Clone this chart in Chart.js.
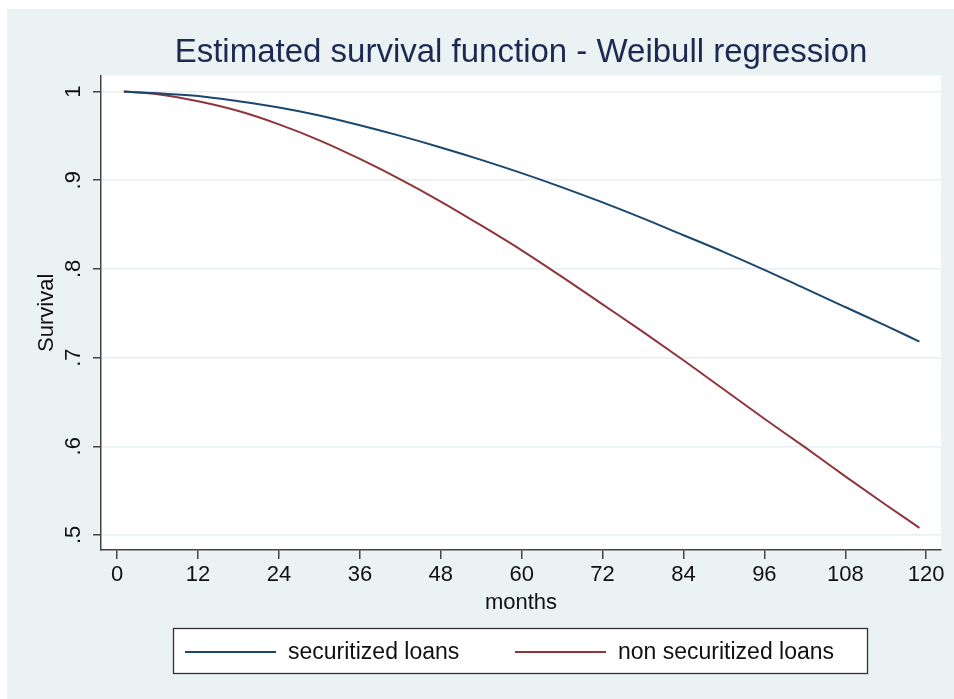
<!DOCTYPE html>
<html>
<head>
<meta charset="utf-8">
<title>Estimated survival function - Weibull regression</title>
<script src="https://cdn.jsdelivr.net/npm/chart.js@4.4.0/dist/chart.umd.min.js"></script>
<style>
  html, body { margin: 0; padding: 0; background: #fff; }
  #wrap { position: relative; width: 954px; height: 699px; }
</style>
</head>
<body>
<div id="wrap"><canvas id="survival-chart"></canvas></div>
<script>
// survival estimates, every 6 months
const months = [1, 6, 12, 18, 24, 30, 36, 42, 48, 54, 60, 66, 72, 78, 84, 90, 96, 102, 108, 114, 119];
const securitized = [1.000, 0.998, 0.995, 0.989, 0.982, 0.973, 0.962, 0.950, 0.937, 0.923, 0.908,
                     0.892, 0.875, 0.857, 0.838, 0.819, 0.799, 0.778, 0.757, 0.736, 0.718];
const nonSecuritized = [1.000, 0.997, 0.989, 0.978, 0.963, 0.945, 0.924, 0.901, 0.876, 0.849, 0.821,
                        0.791, 0.760, 0.729, 0.697, 0.664, 0.631, 0.599, 0.566, 0.534, 0.508];

const xTicks = [0, 12, 24, 36, 48, 60, 72, 84, 96, 108, 120];
const yTicks = [0.5, 0.6, 0.7, 0.8, 0.9, 1];
const yTickLabels = ['.5', '.6', '.7', '.8', '.9', '1'];

const FONT = '"Liberation Sans", Arial, Helvetica, sans-serif';
const axisColor = '#444';
const bgColor = '#eaf2f3';

const toPoints = (vals) => months.map((m, i) => ({ x: m, y: vals[i] }));

// page background + white plot region
const backdrop = {
    id: 'backdrop',
    beforeDraw(chart) {
        const { ctx, chartArea: a, width, height } = chart;
        ctx.save();
        ctx.fillStyle = bgColor;
        ctx.fillRect(7, 9, width - 7, height - 9);
        ctx.fillStyle = '#fff';
        ctx.fillRect(a.left, a.top, a.right - a.left, a.bottom - a.top);
        ctx.restore();
    }
};

// Stata style boxed legend under the axis
const boxLegend = {
    id: 'boxLegend',
    afterDraw(chart) {
        const ctx = chart.ctx;
        const starts = [185, 515];
        const y = 652;
        ctx.save();
        ctx.fillStyle = '#fff';
        ctx.fillRect(173, 628, 695, 46);
        ctx.strokeStyle = '#333';
        ctx.lineWidth = 1.3;
        ctx.strokeRect(173.5, 628.5, 694, 45);
        ctx.font = '23px ' + FONT;
        ctx.textBaseline = 'middle';
        chart.data.datasets.forEach((ds, i) => {
            const x = starts[i];
            ctx.strokeStyle = ds.borderColor;
            ctx.lineWidth = 2;
            ctx.beginPath();
            ctx.moveTo(x, y);
            ctx.lineTo(x + 91, y);
            ctx.stroke();
            ctx.fillStyle = '#111';
            ctx.fillText(ds.label, x + 103, y + 1);
        });
        ctx.restore();
    }
};

new Chart(document.getElementById('survival-chart'), {
    type: 'line',
    data: {
        datasets: [
            {
                label: 'securitized loans',
                data: toPoints(securitized),
                borderColor: '#1a476f',
            },
            {
                label: 'non securitized loans',
                data: toPoints(nonSecuritized),
                borderColor: '#90353b',
            }
        ]
    },
    options: {
        responsive: true,
        maintainAspectRatio: false,
        animation: false,
        events: [],
        layout: { padding: { top: 0, right: 13, bottom: 0, left: 0 } },
        elements: {
            line: { borderWidth: 2, fill: false, tension: 0.4, cubicInterpolationMode: 'monotone' },
            point: { radius: 0 }
        },
        plugins: {
            legend: { display: false },
            tooltip: { enabled: false },
            title: {
                display: true,
                fullSize: false,
                text: 'Estimated survival function - Weibull regression',
                color: '#1c2a52',
                font: { family: FONT, size: 33, weight: 'normal' },
                padding: { top: 33, bottom: 3 }
            }
        },
        scales: {
            x: {
                type: 'linear',
                min: -2.4,
                max: 122.2,
                afterBuildTicks: (s) => { s.ticks = xTicks.map(v => ({ value: v })); },
                afterFit: (s) => { s.height = 149; },
                grid: { drawOnChartArea: false, tickLength: 9, tickColor: axisColor, lineWidth: 1.5 },
                border: { color: axisColor, width: 1.5 },
                ticks: { color: '#111', padding: 3, font: { family: FONT, size: 22 } },
                title: {
                    display: true,
                    text: 'months',
                    color: '#111',
                    font: { family: FONT, size: 22 },
                    padding: { top: 0, bottom: 83 }
                }
            },
            y: {
                type: 'linear',
                min: 0.483,
                max: 1.018,
                afterBuildTicks: (s) => { s.ticks = yTicks.map(v => ({ value: v })); },
                afterFit: (s) => { s.width = 101; },
                grid: { color: '#e6eef1', lineWidth: 1.5, tickLength: 8, tickColor: axisColor },
                border: { color: axisColor, width: 1.5 },
                ticks: {
                    color: '#111',
                    minRotation: 90,
                    maxRotation: 90,
                    crossAlign: 'center',
                    padding: 10,
                    font: { family: FONT, size: 22 },
                    callback: (v, i) => yTickLabels[i]
                },
                title: {
                    display: true,
                    text: 'Survival',
                    color: '#111',
                    font: { family: FONT, size: 22 },
                    padding: { top: 34, bottom: 0 }
                }
            }
        }
    },
    plugins: [backdrop, boxLegend]
});
</script>
</body>
</html>
